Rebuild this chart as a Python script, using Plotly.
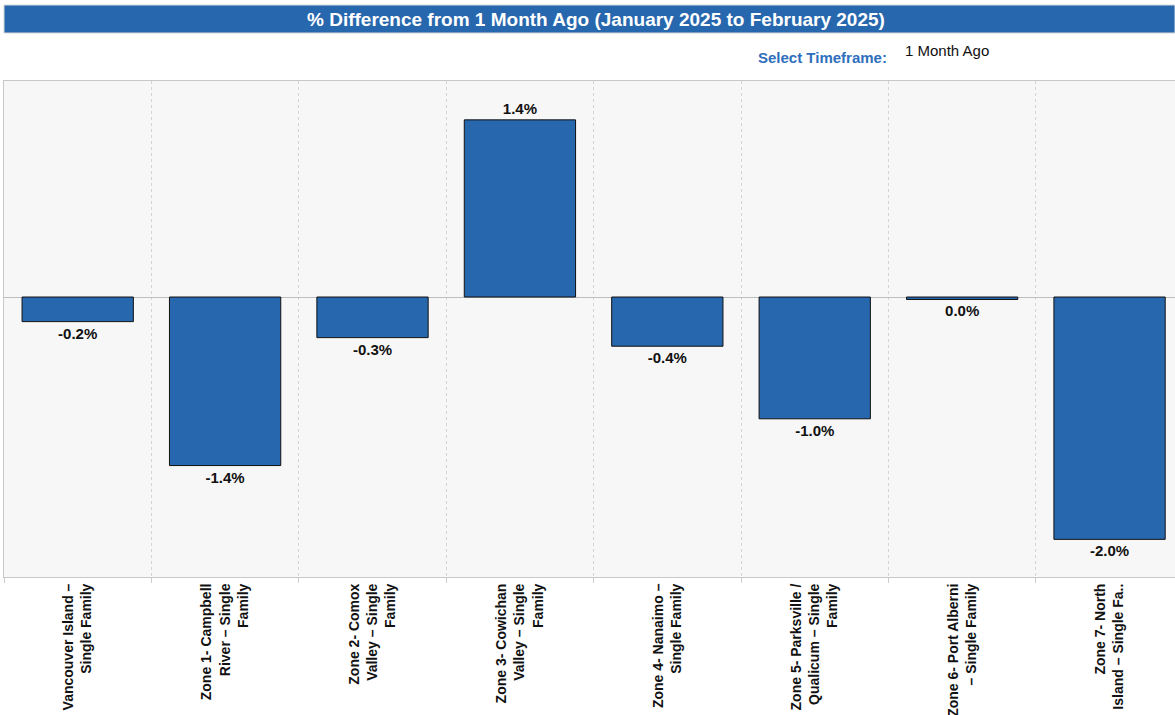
import plotly.graph_objects as go

categories = [
    "Vancouver Island –<br>Single Family",
    "Zone 1- Campbell<br>River – Single<br>Family",
    "Zone 2- Comox<br>Valley – Single<br>Family",
    "Zone 3- Cowichan<br>Valley – Single<br>Family",
    "Zone 4- Nanaimo –<br>Single Family",
    "Zone 5- Parksville /<br>Qualicum – Single<br>Family",
    "Zone 6- Port Alberni<br>– Single Family",
    "Zone 7- North<br>Island – Single Fa..",
]
pct_change = [-0.20, -1.37, -0.33, 1.44, -0.40, -0.99, -0.02, -1.97]
value_labels = [f"{v:.1f}%" for v in pct_change]
value_labels = [("0.0%" if t == "-0.0%" else t) for t in value_labels]

title_text = "% Difference from 1 Month Ago (January 2025 to February 2025)"
selector_label = "Select Timeframe:"
selector_value = "1 Month Ago"

FONT = "Liberation Sans, Arial, sans-serif"
BLUE = "#2767ae"

fig = go.Figure(
    go.Bar(
        x=categories,
        y=pct_change,
        width=0.755,
        marker=dict(color=BLUE, line=dict(color="#111111", width=1)),
        text=value_labels,
        textposition="outside",
        textfont=dict(family=FONT, size=15, color="#111111", weight="bold"),
        cliponaxis=False,
        hoverinfo="skip",
    )
)

fig.update_layout(
    width=1175,
    height=715,
    margin=dict(l=4, r=0, t=81, b=138),
    paper_bgcolor="white",
    plot_bgcolor="#f7f7f7",
    showlegend=False,
    font=dict(family=FONT, color="#111111"),
    xaxis=dict(
        type="category",
        range=[-0.5, 7.444],
        tickangle=-90,
        tickfont=dict(family=FONT, size=14, color="#111111", weight="bold"),
        tickson="boundaries",
        ticks="outside",
        ticklen=5,
        tickcolor="#cccccc",
        showgrid=True,
        gridcolor="#d4d4d4",
        griddash="dot",
        gridwidth=1,
        showline=True,
        linecolor="#c8c8c8",
        linewidth=1,
        mirror=True,
        automargin=False,
        fixedrange=True,
    ),
    yaxis=dict(
        range=[-2.276, 1.756],
        showticklabels=False,
        showgrid=False,
        zeroline=True,
        zerolinecolor="#bdbdbd",
        zerolinewidth=1,
        showline=True,
        linecolor="#c8c8c8",
        linewidth=1,
        ticks="",
        fixedrange=True,
    ),
)

PH = 496  # plot height in px
def py(p):
    return (577 - p) / PH
def px(p):
    return (p - 4) / 1171

# title banner
fig.add_shape(
    type="rect", xref="paper", yref="paper",
    x0=0, x1=1.0, y0=py(33), y1=py(5),
    fillcolor=BLUE, line=dict(color="#d9d9d9", width=1), layer="above",
)
fig.add_annotation(
    xref="paper", yref="paper", x=px(596), y=py(19),
    text=f"<b>{title_text}</b>", showarrow=False,
    font=dict(family=FONT, size=19, color="white"),
    xanchor="center", yanchor="middle",
)
fig.add_annotation(
    xref="paper", yref="paper", x=px(889), y=py(58),
    text=f"<b>{selector_label}</b>", showarrow=False,
    font=dict(family=FONT, size=15, color="#2f6fbd"),
    xanchor="right", yanchor="middle",
)
fig.add_annotation(
    xref="paper", yref="paper", x=px(903), y=py(51),
    text=selector_value, showarrow=False,
    font=dict(family=FONT, size=15, color="#111111"),
    xanchor="left", yanchor="middle",
)

fig.write_html(
    "out.html",
    config={"displayModeBar": False},
    post_script="document.body.style.margin='0';document.body.style.overflow='hidden';",
)
